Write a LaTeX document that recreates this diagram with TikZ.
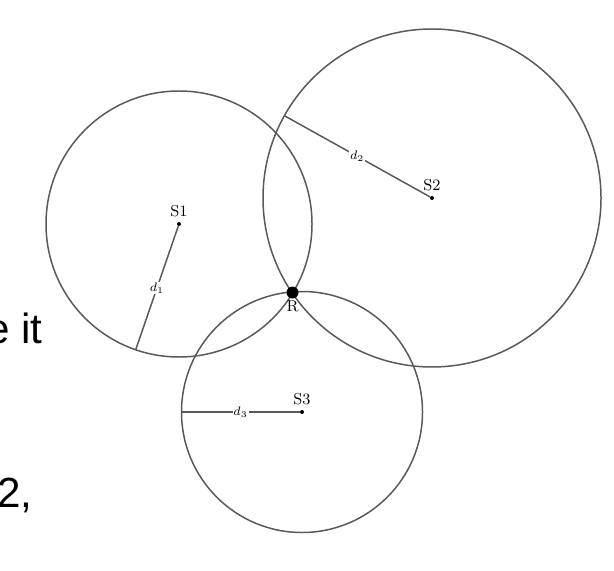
\documentclass[tikz,border=0pt]{standalone}
\usepackage{fontspec}
\newfontfamily\slidefont{Liberation Sans}
\tikzset{
  ring/.style={draw=black!65,line width=0.85pt},
  dot/.style={circle,fill=black,inner sep=0pt,minimum size=0.08cm},
  bigdot/.style={circle,fill=black,inner sep=0pt,minimum size=0.24cm},
  dlabel/.style={fill=white,inner sep=0.5pt,font=\fontsize{7}{8}\selectfont},
}
\begin{document}
\begin{tikzpicture}
\useasboundingbox (0,0) rectangle (12.28,11.4);
\begin{scope}[font=\fontsize{9}{11}\selectfont]
\node[dot,label={[label distance=-1pt]above:S1}] (S1) at (3.58,6.92) {};
\node[dot,label={[label distance=-1pt]above:S2}] (S2) at (8.64,7.44) {};
\node[dot,label={[label distance=-1pt]above:S3}] (S3) at (6.04,3.16) {};
\end{scope}
\coordinate (E1) at (2.714,4.405);
\coordinate (E2) at (5.688,9.086);
\coordinate (E3) at (3.63,3.16);
\begin{scope}[ring]
\draw (3.58,6.92) circle (2.66);
\draw (8.64,7.44) circle (3.38);
\draw (6.04,3.16) circle (2.41);
\draw (S1) --node[dlabel]{$d_1$} (E1);
\draw (S2) --node[dlabel]{$d_2$} (E2);
\draw (S3) --node[dlabel]{$d_3$} (E3);
\end{scope}
\node[bigdot,label={[inner sep=1pt,font=\fontsize{9}{11}\selectfont]below:R}] (R) at (5.85,5.55) {};
% cut-off slide text
\node[anchor=base east,inner sep=0pt,font=\slidefont\fontsize{24}{28}\selectfont] (txtA) at (0.86,4.54) {e it};
\node[anchor=base east,inner sep=0pt,font=\slidefont\fontsize{24}{28}\selectfont] (txtB) at (0.66,1.26) {2,};
\end{tikzpicture}
\end{document}
